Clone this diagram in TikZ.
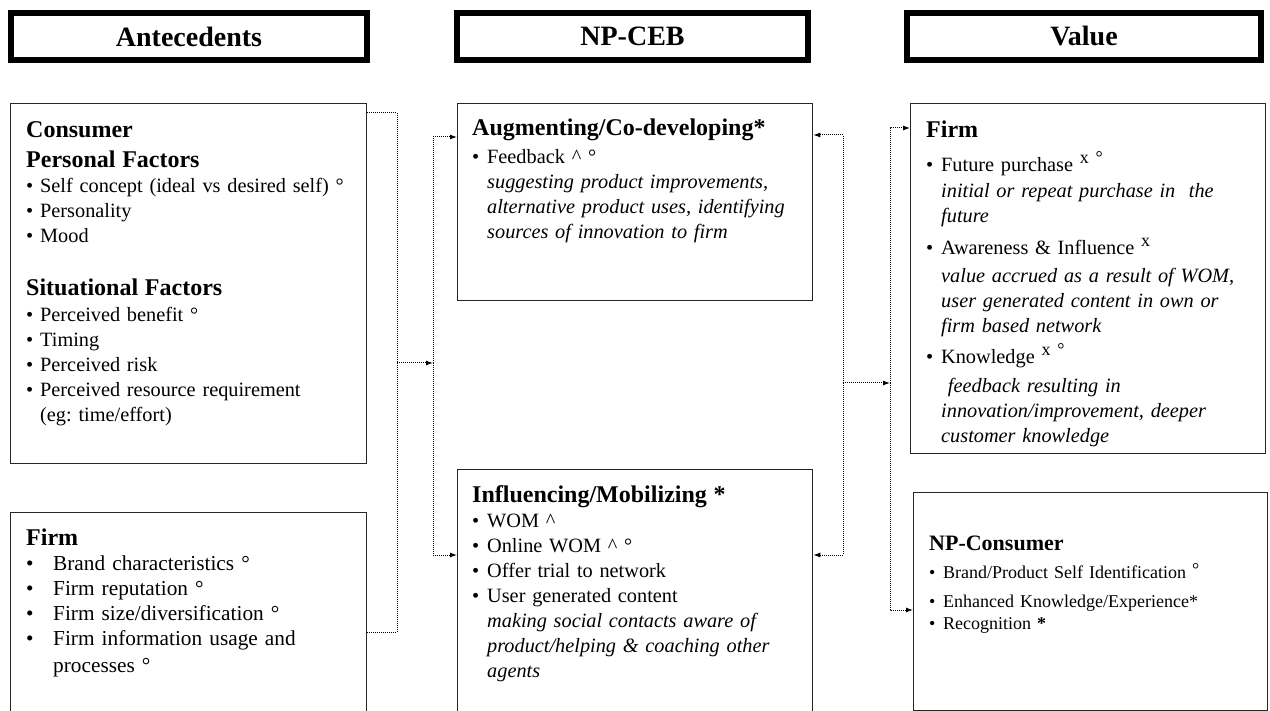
\documentclass[tikz,border=0pt]{standalone}
\usepackage{fontspec}
\setmainfont{Liberation Serif}
\usetikzlibrary{arrows.meta,calc,positioning}
\frenchspacing
\newcommand{\hd}[1]{{\fontsize{24}{25}\selectfont\bfseries #1}}
\newcommand{\bul}[1][14pt]{\makebox[#1][l]{\textbullet}}
\newcommand{\ind}[1][14pt]{\hspace*{#1}}
\newcommand{\sx}[1]{\raisebox{8pt}{\fontsize{18}{18}\selectfont #1}}
\tikzset{
  colhead/.style={draw=black, line width=6pt, fill=white, inner sep=0pt,
                  font=\fontsize{28}{32}\selectfont\bfseries},
  panel/.style={draw=black!85, line width=1.3pt, anchor=north west,
                inner sep=0pt},
  body/.style={anchor=north west, inner sep=0pt, align=left,
               text width=335pt, font=\fontsize{20.3}{25}\selectfont},
  link/.style={line width=1pt, dash pattern=on 1pt off 1pt},
  flow/.style={link, -{Latex[length=7pt,width=5pt]}},
}

\begin{document}
\begin{tikzpicture}[x=1pt,y=-1pt]
  \useasboundingbox (0,0) rectangle (1270,711);

  % Column headings.
  \node[colhead, minimum width=356pt, minimum height=47pt] (hAnte) at (189,36.5) {Antecedents};
  \node[colhead, minimum width=351pt, minimum height=47pt] (hCeb) at (632.5,36.5) {NP-CEB};
  \node[colhead, minimum width=354pt, minimum height=47pt] (hVal) at (1084,36.5) {Value};

  % Antecedents.
  \node[panel, minimum width=356pt, minimum height=360pt] (cons) at (10,103) {};
  \node[panel, minimum width=356pt, minimum height=215pt] (antFirm) at (10,512) {};
  \node[body] (consTxt) at ([shift={(16pt,-16pt)}]cons.north west)
    {\rule{0pt}{18pt}\hd{Consumer}\\[5pt]
     \hd{Personal Factors}\\
     \bul Self concept (ideal vs desired self) °\\
     \bul Personality\\
     \bul Mood\\[28pt]
     \hd{Situational Factors}\\[1pt]
     \bul Perceived benefit °\\
     \bul Timing\\
     \bul Perceived risk\\
     \bul Perceived resource requirement\\
     \ind(eg: time/effort)};
  \node[body, font=\fontsize{21.3}{25}\selectfont] (antFirmTxt)
    at ([shift={(16pt,-15pt)}]antFirm.north west)
    {\rule{0pt}{18pt}\hd{Firm}\\
     \bul[27pt]Brand characteristics °\\
     \bul[27pt]Firm reputation °\\
     \bul[27pt]Firm size/diversification °\\
     \bul[27pt]Firm information usage and\\[2pt]
     \ind[27pt]processes °};

  % NP-CEB.
  \node[panel, minimum width=355pt, minimum height=197pt] (aug) at (457,103) {};
  \node[panel, minimum width=355pt, minimum height=260pt] (infl) at (457,469) {};
  \node[body] (augTxt) at ([shift={(15pt,-14pt)}]aug.north west)
    {\rule{0pt}{18pt}\hd{Augmenting/Co-developing*}\\[3pt]
     \bul[15pt]Feedback \textasciicircum\ °\\
     \ind[15pt]\textit{suggesting product improvements,}\\
     \ind[15pt]\textit{alternative product uses, identifying}\\
     \ind[15pt]\textit{sources of innovation to firm}};
  \node[body] (inflTxt) at ([shift={(15pt,-15pt)}]infl.north west)
    {\rule{0pt}{18pt}\hd{Influencing/Mobilizing *}\\
     \bul[15pt]WOM \textasciicircum\\
     \bul[15pt]Online WOM \textasciicircum\ °\\
     \bul[15pt]Offer trial to network\\
     \bul[15pt]User generated content\\
     \ind[15pt]\textit{making social contacts aware of}\\
     \ind[15pt]\textit{product/helping \& coaching other}\\
     \ind[15pt]\textit{agents}};

  % Value.
  \node[panel, minimum width=355pt, minimum height=350pt] (valFirm) at (910,103) {};
  \node[panel, minimum width=354pt, minimum height=218pt] (npCons) at (913,492) {};
  \node[body] (valFirmTxt) at ([shift={(16pt,-16pt)}]valFirm.north west)
    {\rule{0pt}{18pt}\hd{Firm}\\[9pt]
     \bul[15pt]Future purchase \sx{x °}\\[1pt]
     \ind[15pt]\textit{initial or repeat purchase in\ \ the}\\
     \ind[15pt]\textit{future}\\[7pt]
     \bul[15pt]Awareness \& Influence \sx{x}\\[3pt]
     \ind[15pt]\textit{value accrued as a result of WOM,}\\
     \ind[15pt]\textit{user generated content in own or}\\
     \ind[15pt]\textit{firm based network}\\[6pt]
     \bul[15pt]Knowledge \sx{x °}\\[4pt]
     \ind[15pt]\textit{\ feedback resulting in}\\
     \ind[15pt]\textit{innovation/improvement, deeper}\\
     \ind[15pt]\textit{customer knowledge}};
  \node[body, font=\fontsize{18}{25}\selectfont] (npConsTxt)
    at ([shift={(16pt,-40pt)}]npCons.north west)
    {\rule{0pt}{18pt}{\fontsize{22}{25}\selectfont\bfseries NP-Consumer}\\[3pt]
     \bul Brand/Product Self Identification \raisebox{3pt}{°}\\[4pt]
     \bul Enhanced Knowledge/Experience*\\[-3pt]
     \bul Recognition \textbf{*}};

  % Antecedents feed the engagement behaviours.
  \coordinate (antBus) at (397,363);
  \coordinate (cebIn) at (433,363);
  \draw[link] ([yshift=-10pt]cons.north east) -| (antBus);
  \draw[link] ([yshift=-120pt]antFirm.north east) -| (antBus);
  \draw[flow] (antBus) -- (cebIn);
  \draw[flow] (cebIn) |- ([yshift=-34pt]aug.north west);
  \draw[flow] (cebIn) |- ([yshift=-86pt]infl.north west);

  % Behaviours and value.
  \coordinate (cebBus) at (843,383);
  \coordinate (valIn) at (890,383);
  \draw[flow] (cebBus) |- ([yshift=-32pt]aug.north east);
  \draw[flow] (cebBus) |- ([yshift=-86pt]infl.north east);
  \draw[flow] (cebBus) -- (valIn);
  \draw[flow] (valIn) |- ([yshift=-25pt]valFirm.north west);
  \draw[flow] (valIn) |- ([yshift=-118pt]npCons.north west);
\end{tikzpicture}
\end{document}
